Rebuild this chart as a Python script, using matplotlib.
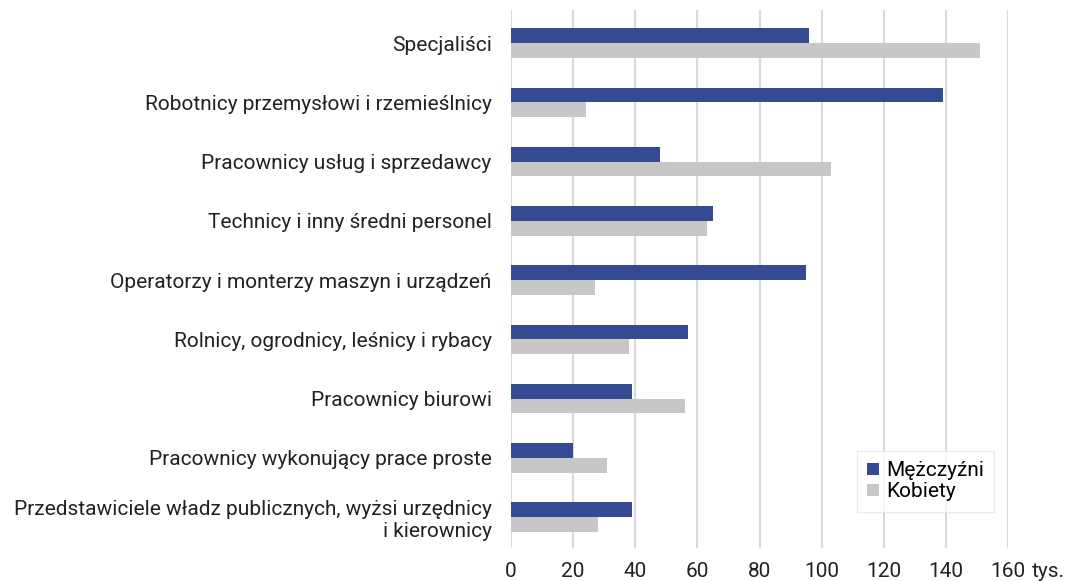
import matplotlib
matplotlib.use("Agg")
import matplotlib.pyplot as plt
import numpy as np

categories = [
    "Specjaliści",
    "Robotnicy przemysłowi i rzemieślnicy",
    "Pracownicy usług i sprzedawcy",
    "Technicy i inny średni personel",
    "Operatorzy i monterzy maszyn i urządzeń",
    "Rolnicy, ogrodnicy, leśnicy i rybacy",
    "Pracownicy biurowi",
    "Pracownicy wykonujący prace proste",
    "Przedstawiciele władz publicznych, wyżsi urzędnicy\ni kierownicy",
]
men = [96, 139, 48, 65, 95, 57, 39, 20, 39]
women = [151, 24, 103, 63, 27, 38, 56, 31, 28]
xticks = [0, 20, 40, 60, 80, 100, 120, 140, 160]
unit = "tys."
series_names = ["Mężczyźni", "Kobiety"]

plt.rcParams['font.family'] = ['Roboto', 'DejaVu Sans']
FS = 15

fig = plt.figure(figsize=(10.65, 5.81), dpi=100)
ax = fig.add_axes([0.4798, 0.0568, 0.9465 - 0.4798, 0.9828 - 0.0568])

y = np.arange(len(categories))
h = 0.25
ax.barh(y - h / 2, men, height=h, color="#344a92", label=series_names[0], zorder=3)
ax.barh(y + h / 2, women, height=h, color="#c6c7c6", label=series_names[1], zorder=3)

ax.set_ylim(len(categories) - 0.48, -0.56)
ax.set_xlim(0, 160)
ax.set_xticks(xticks)
ax.set_xticklabels([str(t) for t in xticks])
ax.set_yticks(y)
ax.set_yticklabels(categories, ha="right", multialignment="right")
ax.tick_params(axis="x", length=0, pad=10, labelsize=FS, colors="#222222")
ax.tick_params(axis="y", length=0, pad=14, labelsize=FS, colors="#222222")
for s in ax.spines.values():
    s.set_visible(False)
ax.grid(axis="x", color="#d9d9d9", linewidth=1.5, zorder=0)
ax.set_axisbelow(True)

ax.annotate(unit, xy=(160, 0), xycoords=("data", "axes fraction"),
            xytext=(17, -10), textcoords="offset points",
            ha="left", va="top", fontsize=FS, color="#222222")

leg = ax.legend(loc="upper left", bbox_to_anchor=(0.675, 0.2), frameon=True,
                fancybox=False, edgecolor="#e6e6e6", fontsize=FS,
                handlelength=0.55, handleheight=0.55, handletextpad=0.35,
                labelspacing=0.1, borderpad=0.5)
leg.get_frame().set_linewidth(1.0)

fig.savefig("out.png", dpi=100, facecolor="white")
